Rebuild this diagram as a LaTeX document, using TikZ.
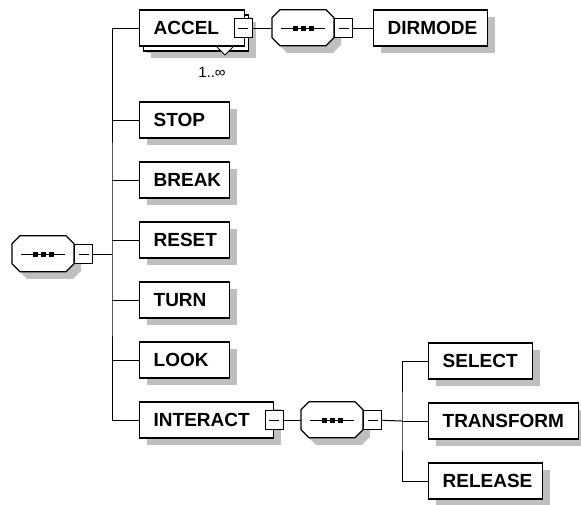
\documentclass[tikz,border=0pt]{standalone}
\usepackage{fontspec}
\setmainfont{Liberation Sans}
\usetikzlibrary{positioning,shadows}

\newcommand\seqsym[1]{%
  \fill[black!25] ([xshift=7pt,yshift=-7pt]#1.north west) ++(8,0) -- ++(46,0) -- ++(8,8) -- ++(0,20)
    -- ++(-8,8) -- ++(-46,0) -- ++(-8,-8) -- ++(0,-20) -- cycle;
  \draw[line width=1.3pt,fill=white] (#1.north west) ++(8,0) -- ++(46,0) -- ++(8,8) -- ++(0,20)
    -- ++(-8,8) -- ++(-46,0) -- ++(-8,-8) -- ++(0,-20) -- cycle;
  \draw[line width=1pt] ([xshift=9pt]#1.west) -- ([xshift=-9pt]#1.east);
  \fill ([xshift=-8pt]#1.center) +(-2.5,-2.5) rectangle +(2.5,2.5);
  \fill (#1.center) +(-2.5,-2.5) rectangle +(2.5,2.5);
  \fill ([xshift=8pt]#1.center) +(-2.5,-2.5) rectangle +(2.5,2.5);}

\begin{document}
\begin{tikzpicture}[x=1pt,y=-1pt,
  shade/.style={drop shadow={shadow xshift=7pt,shadow yshift=-7pt,fill=black!25,opacity=1}},
  elem/.style={draw,fill=white,line width=1.3pt,minimum height=36pt,inner xsep=14pt,inner ysep=0pt,
    anchor=west,align=left,text width=#1,font=\fontsize{19}{19}\selectfont\bfseries,shade},
  seq/.style={minimum width=62pt,minimum height=36pt,inner sep=0pt,anchor=west},
  minus/.style={draw,fill=white,line width=1pt,minimum width=18pt,minimum height=19pt,inner sep=0pt,
    path picture={\draw[line width=1pt] ([xshift=4pt]path picture bounding box.west) -- ([xshift=-4pt]path picture bounding box.east);}},
  link/.style={line width=1pt}]
\useasboundingbox (0,0) rectangle (581,504);

\node[seq] (root) at (12,254) {};
\seqsym{root}
\node[minus,anchor=west] (rootm) at (root.east) {};
\coordinate (trunk) at (112,254);

\node[elem=77pt,drop shadow={shadow xshift=11pt,shadow yshift=-12pt,fill=black!25,opacity=1},
  copy shadow={shadow xshift=4pt,shadow yshift=-5pt,draw=black,fill=white,line width=1.3pt}] (accel) at (139,28) {ACCEL};
\fill[white] (217,47) -- (233,47) -- (225,55) -- cycle;
\draw[line width=1pt] (217,47) -- (225,55) -- (233,47);
\node[font=\fontsize{15}{15}\selectfont] (mult) at (212,72) {1..∞};
\node[minus,xshift=-2pt] (accm) at (accel.east) {};
\node[seq] (seq2) at (272,28) {};
\seqsym{seq2}
\node[minus,anchor=west] (seq2m) at (seq2.east) {};
\node[elem=86pt] (dirmode) at (373,28) {DIRMODE};

\node[elem=62pt] (stop) at (139,120) {STOP};
\node[elem=62pt] (break) at (139,180) {BREAK};
\node[elem=62pt] (reset) at (139,240) {RESET};
\node[elem=62pt] (turn) at (139,300) {TURN};
\node[elem=62pt] (look) at (139,360) {LOOK};
\node[elem=106pt] (interact) at (139,420) {INTERACT};
\node[minus] (intm) at (interact.east) {};

\node[seq] (seq3) at (301,420) {};
\seqsym{seq3}
\node[minus,anchor=west] (seq3m) at (seq3.east) {};
\coordinate (sub) at (402,421);
\node[elem=76pt] (select) at (428,361) {SELECT};
\node[elem=122pt] (transform) at (428,421) {TRANSFORM};
\node[elem=86pt] (release) at (428,481) {RELEASE};

\draw[link] (rootm) -- (trunk);
\draw[link] (accel) -| (trunk) |- (interact);
\draw[link] (stop) -- (stop -| trunk);
\draw[link] (break) -- (break -| trunk);
\draw[link] (reset) -- (reset -| trunk);
\draw[link] (turn) -- (turn -| trunk);
\draw[link] (look) -- (look -| trunk);
\draw[link] (accm) -- (seq2);
\draw[link] (seq2m) -- (dirmode);
\draw[link] (intm) -- (seq3);
\draw[link] (seq3m) -- (sub);
\draw[link] (select) -| (sub) |- (release);
\draw[link] (transform) -- (sub);
\end{tikzpicture}
\end{document}
